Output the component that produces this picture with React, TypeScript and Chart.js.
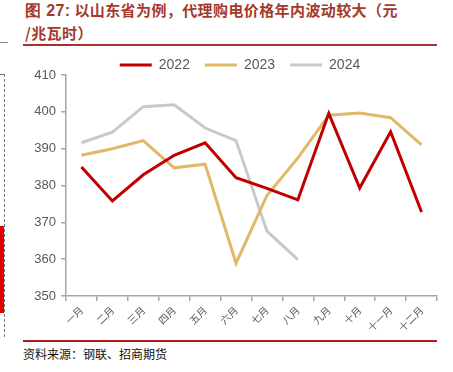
import React, { useEffect, useRef } from "react";
import { Chart, registerables } from "chart.js";

Chart.register(...registerables);

const labels = ["一月", "二月", "三月", "四月", "五月", "六月", "七月", "八月", "九月", "十月", "十一月", "十二月"];
const s2022 = [385.0, 375.8, 382.9, 388.2, 391.6, 382.1, 379.2, 376.1, 399.6, 379.3, 394.6, 372.8];
const s2023 = [388.2, 390.0, 392.2, 384.8, 385.8, 358.9, 377.3, 387.5, 399.1, 399.7, 398.4, 391.0];
const s2024 = [391.6, 394.5, 401.4, 401.9, 395.6, 392.2, 367.6, 359.9];
const seriesNames = ["2022", "2023", "2024"];
const yMin = 350;
const yMax = 410;
const yStep = 10;

const COLORS = ["#C00000", "#E2B868", "#C9C9C9"];

const legendPlugin = {
  id: "legendTweak",
  beforeInit(chart: any) {
    const lg = chart.legend;
    if (!lg) return;
    const orig = lg.fit.bind(lg);
    lg.fit = function () {
      orig();
      this.height = 32;
    };
  },
  afterLayout(chart: any) {
    const lg = chart.legend;
    if (lg) lg.left = 43;
  },
};

export default function App() {
  const ref = useRef<HTMLCanvasElement | null>(null);

  useEffect(() => {
    document.body.style.margin = "0";
    const axisColor = "#A6A6A6";
    const chart = new Chart(ref.current as HTMLCanvasElement, {
      type: "line",
      data: {
        labels,
        datasets: [s2022, s2023, s2024].map((d, i) => ({
          label: seriesNames[i],
          data: d,
          borderColor: COLORS[i],
          backgroundColor: COLORS[i],
          borderWidth: 3,
          pointRadius: 0,
          tension: 0,
          fill: false,
        })),
      },
      plugins: [legendPlugin],
      options: {
        animation: false,
        responsive: false,
        layout: { padding: { left: 0, right: 16, top: 0, bottom: 0 } },
        font: { family: "'Liberation Sans', 'Noto Sans CJK SC', sans-serif" },
        plugins: {
          tooltip: { enabled: false },
          legend: {
            position: "top",
            labels: {
              boxWidth: 32,
              boxHeight: 3,
              padding: 15,
              color: "#595959",
              font: { size: 14, family: "'Liberation Sans', sans-serif" },
              generateLabels: (c: any) =>
                Chart.defaults.plugins.legend.labels.generateLabels(c).map((l: any) => ({
                  ...l,
                  lineWidth: 0,
                  fillStyle: l.strokeStyle,
                })),
            },
          },
        },
        scales: {
          x: {
            offset: true,
            grid: { offset: true, drawOnChartArea: false, drawTicks: true, tickLength: 5, color: axisColor, lineWidth: 1.5 },
            border: { color: axisColor, width: 1.5 },
            ticks: {
              autoSkip: false,
              maxRotation: 45,
              minRotation: 45,
              color: "#595959",
              font: { size: 10, family: "'Noto Sans CJK SC', sans-serif" },
            },
            afterFit: (s: any) => {
              s.height = 44;
            },
          },
          y: {
            min: yMin,
            max: yMax,
            grid: { drawOnChartArea: false, drawTicks: true, tickLength: 5, color: axisColor, lineWidth: 1.5 },
            border: { color: axisColor, width: 1.5 },
            ticks: {
              stepSize: yStep,
              padding: 5,
              color: "#595959",
              font: { size: 13, family: "'Liberation Sans', sans-serif" },
            },
            afterFit: (s: any) => {
              s.width = 66;
            },
          },
        },
      } as any,
    });
    return () => chart.destroy();
  }, []);

  const titleColor = "#A33A2C";
  return (
    <div style={{ position: "fixed", left: 0, top: 0, width: 453, height: 372, background: "#fff", overflow: "hidden" }}>
      <div
        style={{
          position: "absolute",
          left: 25,
          top: -1,
          width: 425,
          color: titleColor,
          fontFamily: "'Noto Sans CJK SC', sans-serif",
          fontWeight: 700,
          fontSize: 15,
          lineHeight: "22px",
          letterSpacing: 0.4,
          whiteSpace: "nowrap",
        }}
      >
        <span style={{ fontFamily: "'Liberation Sans', sans-serif", fontSize: 16 }}>图 27:</span> 以山东省为例，代理购电价格年内波动较大（元
        <br />
        /兆瓦时）
      </div>
      <div style={{ position: "absolute", left: 23, top: 44, width: 414, height: 2, background: "#A8332E" }} />
      <div style={{ position: "absolute", left: 0, top: 42, width: 8, height: 1, background: "#888" }} />
      <div style={{ position: "absolute", left: 0, top: 74, width: 4, height: 262, borderTop: "1px dashed #777", borderRight: "1px dashed #777" }} />
      <div style={{ position: "absolute", left: 0, top: 226, width: 4, height: 87, background: "#E00000" }} />
      <canvas ref={ref} width={453} height={297} style={{ position: "absolute", left: 0, top: 43, width: 453, height: 297 }} />
      <div style={{ position: "absolute", left: 23, top: 340, width: 414, height: 2, background: "#B01E1E" }} />
      <div
        style={{
          position: "absolute",
          left: 23,
          top: 345,
          fontFamily: "'Noto Sans CJK SC', sans-serif",
          fontSize: 12,
          color: "#111",
          whiteSpace: "nowrap",
        }}
      >
        资料来源：钢联、招商期货
      </div>
    </div>
  );
}
